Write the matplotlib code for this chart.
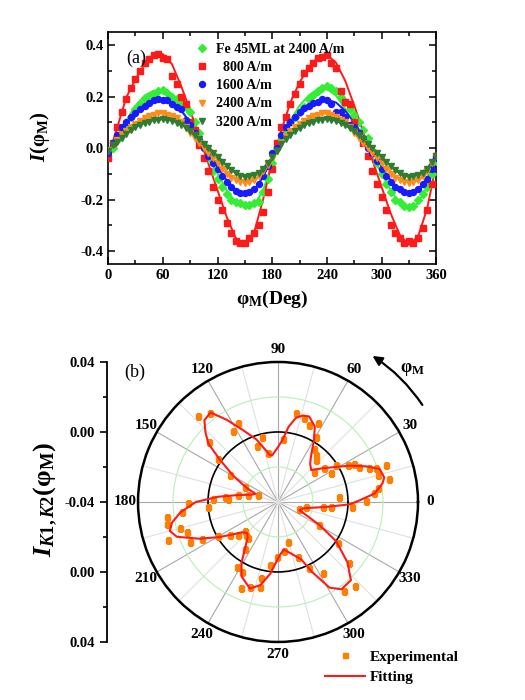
import numpy as np
import matplotlib
matplotlib.use("Agg")
import matplotlib.pyplot as plt
from matplotlib.ticker import MultipleLocator, FixedLocator, FixedFormatter

plt.rcParams['font.family'] = ['Liberation Serif', 'DejaVu Serif']
plt.rcParams['font.weight'] = 'bold'
plt.rcParams['mathtext.fontset'] = 'custom'
plt.rcParams['mathtext.rm'] = 'Liberation Serif:bold'
plt.rcParams['mathtext.it'] = 'Liberation Serif:italic:bold'
plt.rcParams['mathtext.bf'] = 'Liberation Serif:bold'

# ---------------- panel (a) data ----------------
phi_fit = list(range(0, 361, 10))
phi_exp = list(range(0, 361, 5))
series_labels = ["Fe 45ML at 2400 A/m", "  800 A/m", "1600 A/m", "2400 A/m", "3200 A/m"]

fe_fit = [-0.010, 0.043, 0.107, 0.165, 0.204, 0.223, 0.223, 0.197, 0.152, 0.094, 0.030, -0.035, -0.099,
          -0.164, -0.215, -0.231, -0.222, -0.164, -0.060, 0.030, 0.107, 0.165, 0.204, 0.229, 0.229, 0.204,
          0.152, 0.094, 0.030, -0.035, -0.099, -0.164, -0.215, -0.231, -0.215, -0.151, -0.054]
h800_fit = [-0.035, 0.081, 0.197, 0.268, 0.326, 0.358, 0.365, 0.326, 0.242, 0.146, 0.043, -0.061, -0.164,
            -0.267, -0.350, -0.376, -0.330, -0.200, -0.050, 0.068, 0.178, 0.255, 0.313, 0.352, 0.362, 0.332,
            0.262, 0.165, 0.062, -0.048, -0.151, -0.254, -0.338, -0.376, -0.344, -0.235, -0.060]
h1600_fit = [-0.015, 0.043, 0.094, 0.133, 0.165, 0.184, 0.190, 0.178, 0.146, 0.100, 0.043, -0.015, -0.073,
             -0.125, -0.164, -0.177, -0.164, -0.112, -0.041, 0.040, 0.100, 0.140, 0.165, 0.183, 0.188, 0.177,
             0.145, 0.100, 0.045, -0.015, -0.073, -0.125, -0.163, -0.177, -0.165, -0.120, -0.040]
h2400_fit = [-0.010, 0.030, 0.065, 0.095, 0.117, 0.130, 0.135, 0.128, 0.108, 0.078, 0.035, -0.005, -0.045,
             -0.090, -0.122, -0.135, -0.127, -0.095, -0.040, 0.020, 0.060, 0.092, 0.115, 0.130, 0.135, 0.128,
             0.108, 0.078, 0.040, 0.000, -0.045, -0.090, -0.122, -0.135, -0.127, -0.095, -0.035]
h3200_fit = [-0.005, 0.025, 0.055, 0.080, 0.098, 0.108, 0.112, 0.107, 0.092, 0.068, 0.038, 0.005, -0.030,
             -0.068, -0.098, -0.112, -0.105, -0.080, -0.035, 0.015, 0.050, 0.078, 0.097, 0.108, 0.112, 0.106,
             0.090, 0.067, 0.037, 0.003, -0.032, -0.070, -0.100, -0.112, -0.105, -0.078, -0.030]

fe_exp = [-0.010, 0.000, 0.030, 0.060, 0.090, 0.120, 0.150, 0.170, 0.190, 0.200, 0.210, 0.220, 0.225,
          0.215, 0.200, 0.190, 0.170, 0.160, 0.140, 0.100, 0.060, 0.010, -0.040, -0.090, -0.120, -0.150,
          -0.180, -0.200, -0.210, -0.215, -0.220, -0.220, -0.215, -0.210, -0.170, -0.120, -0.060, 0.000,
          0.030, 0.070, 0.100, 0.120, 0.140, 0.160, 0.190, 0.205, 0.220, 0.235, 0.240, 0.235, 0.220,
          0.200, 0.180, 0.150, 0.130, 0.100, 0.070, 0.040, -0.010, -0.060, -0.100, -0.140, -0.170,
          -0.200, -0.210, -0.225, -0.230, -0.225, -0.200, -0.180, -0.150, -0.100, -0.050]
h800_exp = [-0.040, 0.020, 0.080, 0.140, 0.190, 0.235, 0.270, 0.300, 0.330, 0.345, 0.360, 0.365, 0.350,
            0.345, 0.280, 0.250, 0.200, 0.170, 0.100, 0.070, 0.010, -0.040, -0.090, -0.150, -0.200, -0.240,
            -0.290, -0.330, -0.360, -0.370, -0.370, -0.350, -0.330, -0.300, -0.250, -0.170, -0.080, 0.020,
            0.080, 0.120, 0.170, 0.210, 0.250, 0.290, 0.310, 0.330, 0.350, 0.355, 0.360, 0.330, 0.310,
            0.220, 0.180, 0.170, 0.100, 0.060, 0.020, -0.030, -0.090, -0.140, -0.190, -0.240, -0.300,
            -0.330, -0.350, -0.370, -0.360, -0.370, -0.350, -0.310, -0.240, -0.140, -0.030]
h1600_exp = [-0.020, 0.020, 0.050, 0.080, 0.100, 0.120, 0.135, 0.150, 0.165, 0.175, 0.185, 0.190, 0.185,
             0.185, 0.170, 0.160, 0.150, 0.110, 0.090, 0.060, 0.030, 0.000, -0.030, -0.060, -0.080, -0.110,
             -0.130, -0.150, -0.165, -0.175, -0.175, -0.170, -0.160, -0.140, -0.110, -0.070, -0.020, 0.000,
             0.050, 0.080, 0.100, 0.120, 0.140, 0.155, 0.165, 0.175, 0.180, 0.190, 0.185, 0.170, 0.140,
             0.140, 0.120, 0.090, 0.080, 0.060, 0.030, 0.000, -0.020, -0.050, -0.080, -0.110, -0.130,
             -0.150, -0.160, -0.170, -0.175, -0.170, -0.160, -0.140, -0.120, -0.080, -0.040]
h2400_exp = [-0.010, 0.010, 0.030, 0.050, 0.065, 0.080, 0.095, 0.105, 0.115, 0.125, 0.130, 0.135, 0.135,
             0.130, 0.125, 0.115, 0.100, 0.080, 0.060, 0.040, 0.020, 0.000, -0.020, -0.040, -0.060, -0.080,
             -0.100, -0.115, -0.125, -0.130, -0.135, -0.130, -0.125, -0.110, -0.090, -0.065, -0.040, -0.010,
             0.020, 0.045, 0.065, 0.080, 0.095, 0.105, 0.115, 0.125, 0.130, 0.135, 0.135, 0.130, 0.120,
             0.110, 0.100, 0.080, 0.060, 0.040, 0.020, 0.000, -0.020, -0.040, -0.060, -0.080, -0.100,
             -0.115, -0.125, -0.130, -0.135, -0.130, -0.125, -0.110, -0.090, -0.060, -0.030]
h3200_exp = [-0.010, 0.010, 0.025, 0.040, 0.055, 0.070, 0.080, 0.090, 0.098, 0.103, 0.108, 0.110, 0.112,
             0.110, 0.105, 0.098, 0.090, 0.078, 0.065, 0.050, 0.035, 0.015, 0.000, -0.020, -0.035, -0.055,
             -0.070, -0.085, -0.098, -0.108, -0.112, -0.110, -0.105, -0.095, -0.080, -0.060, -0.035, -0.010,
             0.015, 0.035, 0.050, 0.065, 0.078, 0.088, 0.097, 0.103, 0.108, 0.110, 0.112, 0.110, 0.105,
             0.097, 0.090, 0.078, 0.065, 0.050, 0.035, 0.015, 0.000, -0.020, -0.035, -0.055, -0.070,
             -0.085, -0.098, -0.108, -0.112, -0.110, -0.105, -0.095, -0.080, -0.055, -0.030]

# ---------------- panel (b) data ----------------
theta_fit_deg = [0, 5, 10, 13, 18, 22, 27, 31, 37, 44, 50, 54, 60, 64, 70, 74, 78, 82, 86, 90, 97, 100,
                 109, 116, 122, 127, 132, 136, 140, 144, 150, 156, 160, 165, 170, 175, 180, 186, 191, 195,
                 199, 205, 211, 216, 220, 225, 229, 235, 239, 244, 252, 258, 264, 267, 272, 277, 284, 292,
                 296, 301, 306, 313, 319, 326, 331, 335, 339, 346, 354, 358, 360]
i_fit = [0.0046, 0.0154, 0.0206, 0.0223, 0.0211, 0.0143, 0.0057, -0.0011, -0.0080, -0.0137, -0.0114,
         -0.0080, 0.0011, 0.0080, 0.0120, 0.0114, 0.0091, 0.0034, -0.0046, -0.0086, -0.0131, -0.0126,
         -0.0023, 0.0057, 0.0154, 0.0240, 0.0229, 0.0177, 0.0120, 0.0011, -0.0109, -0.0206, -0.0263,
         -0.0240, -0.0171, -0.0057, 0.0069, 0.0160, 0.0217, 0.0240, 0.0211, 0.0097, -0.0011, -0.0086,
         -0.0131, -0.0149, -0.0137, -0.0069, 0.0006, 0.0074, 0.0120, 0.0086, 0.0011, -0.0040, -0.0097,
         -0.0126, -0.0097, -0.0046, 0.0046, 0.0171, 0.0217, 0.0211, 0.0126, 0.0000, -0.0131, -0.0223,
         -0.0269, -0.0251, -0.0126, 0.0006, 0.0046]
theta_exp_deg = [0.8, 4.9, 5.2, 7.8, 11.7, 15.2, 18.9, 19.0, 20.3, 23.5, 26.5, 28.0, 28.4, 32.5, 36.0,
                 39.8, 47.9, 51.0, 55.4, 59.6, 63.2, 67.9, 72.5, 78.5, 85.7, 101.0, 104.1, 110.8, 116.6,
                 122.4, 127.5, 132.8, 139.0, 144.4, 150.6, 155.0, 160.4, 166.7, 170.0, 174.3, 176.6, 177.3,
                 180.6, 184.3, 185.7, 187.5, 191.3, 194.7, 198.4, 199.0, 204.3, 206.0, 209.5, 214.5, 219.7,
                 222.0, 226.0, 230.7, 235.0, 237.8, 242.5, 246.8, 251.8, 257.4, 258.0, 262.8, 268.6, 277.4,
                 283.7, 289.6, 295.3, 302.3, 306.8, 312.6, 319.4, 325.3, 330.9, 341.0, 349.3, 353.2, 355.0,
                 356.4]
i_exp = [0.0103, -0.0049, 0.0153, 0.0175, 0.0246, 0.0190, 0.0253, 0.0192, 0.0156, 0.0106, 0.0087, 0.0051,
         -0.0055, -0.0007, -0.0073, -0.0130, -0.0077, -0.0055, -0.0034, 0.0029, 0.0103, 0.0074, 0.0101,
         0.0117, -0.0040, -0.0113, -0.0019, -0.0057, 0.0107, 0.0083, 0.0239, 0.0269, 0.0126, 0.0019,
         -0.0086, -0.0192, -0.0281, -0.0226, -0.0170, -0.0095, -0.0114, -0.0030, 0.0113, 0.0000, 0.0153,
         0.0242, 0.0249, 0.0179, 0.0150, 0.0267, 0.0151, 0.0086, -0.0003, -0.0067, -0.0105, -0.0149,
         -0.0137, -0.0131, -0.0069, 0.0037, 0.0049, 0.0137, 0.0113, 0.0047, 0.0095, -0.0037, -0.0087,
         -0.0119, -0.0167, -0.0065, 0.0019, 0.0078, 0.0233, 0.0253, 0.0133, 0.0015, -0.0130, -0.0271,
         -0.0237, -0.0143, -0.0096, 0.0023]
theta_tick_labels = ['0', '30', '60', '90', '120', '150', '180', '210', '240', '270', '300', '330']
radial_tick_labels = ['0.04', '0.00', '-0.04', '0.00', '0.04']

# ---------------- figure ----------------
fig = plt.figure(figsize=(5.25, 7), dpi=100)

ax1 = fig.add_axes([0.206, 0.623, 0.625, 0.331])
colors = ['#33ee33', '#ff1a1a', '#1a1aff', '#ff8c1a', '#2e7d32']
markers = ['D', 's', 'o', 'v', 'v']
msizes = [4.0, 3.8, 4.3, 4.8, 4.8]
fits = [fe_fit, h800_fit, h1600_fit, h2400_fit, h3200_fit]
exps = [fe_exp, h800_exp, h1600_exp, h2400_exp, h3200_exp]
for c, m, ms, f, e, lab in zip(colors, markers, msizes, fits, exps, series_labels):
    ax1.plot(phi_fit, f, color=c, lw=1.4, zorder=2)
    ax1.plot(phi_exp, e, ls='none', marker=m, ms=ms, color=c, mec=c, label=lab, zorder=3)

ax1.set_xlim(0, 360)
ax1.set_ylim(-0.45, 0.45)
ax1.xaxis.set_major_locator(MultipleLocator(60))
ax1.xaxis.set_minor_locator(MultipleLocator(30))
ax1.yaxis.set_major_locator(MultipleLocator(0.2))
ax1.yaxis.set_minor_locator(MultipleLocator(0.1))
ax1.yaxis.set_major_formatter(matplotlib.ticker.FormatStrFormatter('%.1f'))
ax1.tick_params(which='both', direction='in', top=True, right=True, labelsize=10.5, width=1.1)
ax1.tick_params(which='major', length=5)
ax1.tick_params(which='minor', length=3)
for s in ax1.spines.values():
    s.set_linewidth(1.2)
ax1.set_xlabel(r'$\mathrm{\varphi_M(Deg)}$', fontsize=14, labelpad=5)
ax1.set_ylabel(r'$I\mathrm{(\varphi_M)}$', fontsize=15)
ax1.yaxis.set_label_coords(-0.17, 0.55)
ax1.text(0.055, 0.888, '(a)', transform=ax1.transAxes, fontsize=13, fontweight='normal', va='center')
leg = ax1.legend(loc='upper left', bbox_to_anchor=(0.265, 0.955), frameon=False, fontsize=10,
                 handlelength=1.0, handletextpad=0.5, labelspacing=0.38, borderaxespad=0, borderpad=0)

# polar panel
ax2 = fig.add_axes([0.2629, 0.0829, 0.5333, 0.4], projection='polar')
ax2.plot(np.deg2rad(theta_fit_deg), i_fit, color='#ff1a1a', lw=1.5, zorder=4, label='Fitting')
ax2.plot(np.deg2rad(theta_exp_deg), i_exp, ls='none', marker='s', ms=3.6, color='#ff8000',
         zorder=3, label='Experimental')
ax2.set_ylim(-0.04, 0.04)
ax2.set_rgrids([-0.02, 0.0, 0.02], labels=['', '', ''])
ax2.tick_params(axis='y', length=0)
rcolors = ['#b6f0b6', 'black', '#b6f0b6']
rwidths = [0.8, 1.2, 0.8]
for t, c, w in zip(ax2.yaxis.get_major_ticks(), rcolors, rwidths):
    t.gridline.set_color(c)
    t.gridline.set_linewidth(w)
    t.gridline.set_linestyle('-')
ax2.set_thetagrids(np.arange(0, 360, 30), theta_tick_labels, fontsize=11)
ax2.xaxis.grid(True, which='major', color='#a8a8a8', lw=0.8, ls='-')
ax2.set_xticks(np.deg2rad(np.arange(15, 360, 30)), minor=True)
ax2.xaxis.grid(True, which='minor', color='#e0e0e0', lw=0.8, ls='-')
ax2.tick_params(axis='x', which='major', direction='in', length=5, width=1.2, pad=2)
ax2.tick_params(axis='x', which='minor', direction='in', length=4, width=1.0)
ax2.spines['polar'].set_linewidth(1.8)
ax2.annotate('', xy=(np.deg2rad(58), 0.0594), xytext=(np.deg2rad(33), 0.0594),
             arrowprops=dict(arrowstyle='-|>', connectionstyle='arc3,rad=0.11', color='black',
                             lw=1.6, mutation_scale=14), annotation_clip=False)
fig.text(400 / 525, 1 - 370 / 700, r'$\mathrm{\varphi_M}$', fontsize=13, ha='left', va='center')
fig.text(124 / 525, 1 - 372 / 700, '(b)', fontsize=13, fontweight='normal', ha='left', va='center')

# left radial axis
ax3 = fig.add_axes([107 / 525, 0.0829, 0.0005, 0.4])
ax3.set_ylim(-0.08, 0.08)
ax3.patch.set_visible(False)
for k in ['right', 'top', 'bottom']:
    ax3.spines[k].set_visible(False)
ax3.spines['left'].set_linewidth(1.3)
ax3.set_xticks([])
ax3.yaxis.set_major_locator(FixedLocator([-0.08, -0.04, 0.0, 0.04, 0.08]))
ax3.yaxis.set_major_formatter(FixedFormatter(radial_tick_labels[::-1]))
ax3.yaxis.set_minor_locator(FixedLocator([-0.06, -0.02, 0.02, 0.06]))
ax3.tick_params(axis='y', which='both', direction='out', labelsize=10.5, width=1.2)
ax3.tick_params(axis='y', which='major', length=5)
ax3.tick_params(axis='y', which='minor', length=3)
ax3.set_ylabel(r'$I_{K1,K2}\mathrm{(\varphi_M)}$', fontsize=19)
ax3.yaxis.set_label_coords(60 / 525, 1 - 500 / 700, transform=fig.transFigure)

h, l = ax2.get_legend_handles_labels()
fig.legend([h[1], h[0]], [l[1], l[0]], loc='upper left', bbox_to_anchor=(325 / 525, 1 - 650 / 700),
           frameon=False, fontsize=11, handlelength=2.6, handletextpad=0.35, labelspacing=0.45,
           borderaxespad=0, borderpad=0)

fig.savefig('out.png', dpi=100)
